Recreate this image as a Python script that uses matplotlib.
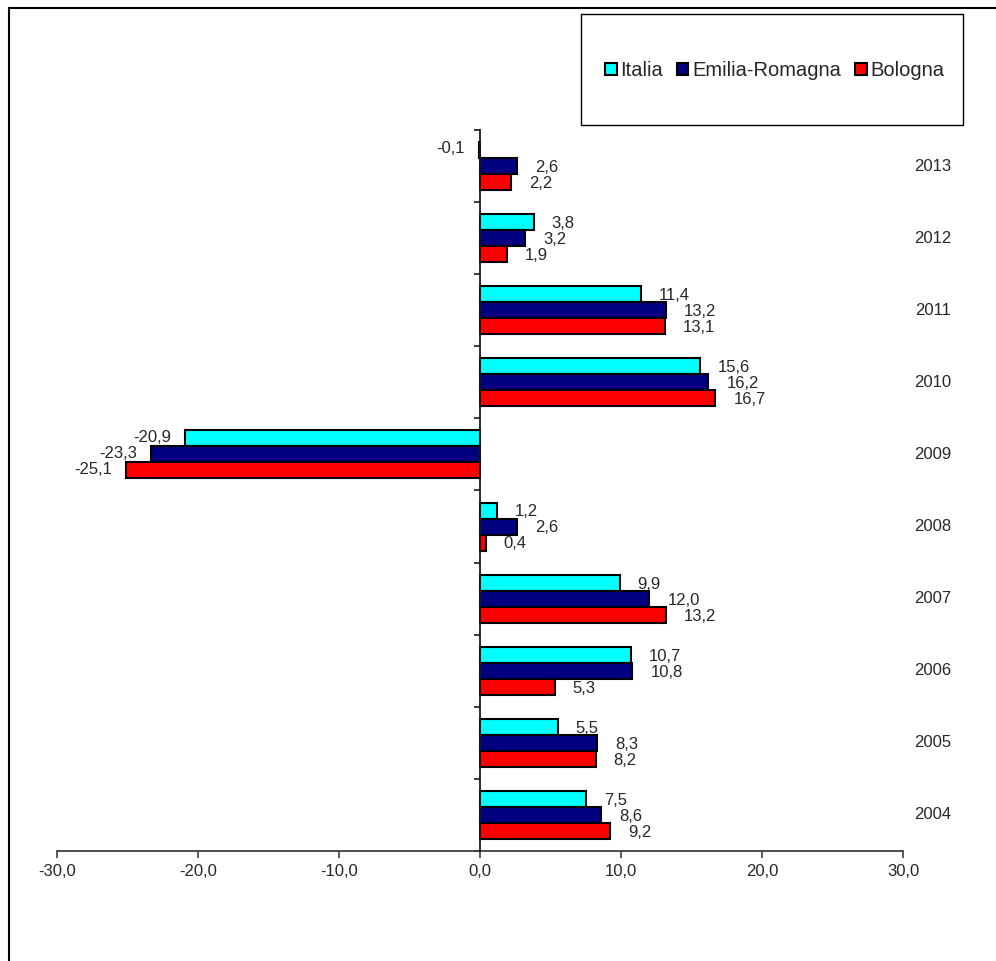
import matplotlib
matplotlib.use("Agg")
import matplotlib.pyplot as plt
from matplotlib.lines import Line2D
from matplotlib.patches import Rectangle
from matplotlib.ticker import FuncFormatter, FixedLocator
import numpy as np

plt.rcParams['font.family'] = ['Liberation Sans', 'DejaVu Sans']

years = ["2004", "2005", "2006", "2007", "2008", "2009", "2010", "2011", "2012", "2013"]
italia = [7.5, 5.5, 10.7, 9.9, 1.2, -20.9, 15.6, 11.4, 3.8, -0.1]
emilia_romagna = [8.6, 8.3, 10.8, 12.0, 2.6, -23.3, 16.2, 13.2, 3.2, 2.6]
bologna = [9.2, 8.2, 5.3, 13.2, 0.4, -25.1, 16.7, 13.1, 1.9, 2.2]
series_names = ["Italia", "Emilia-Romagna", "Bologna"]
colors = ["#00FFFF", "#000080", "#FF0000"]
xticks = [-30, -20, -10, 0, 10, 20, 30]

W, H = 996, 961
fig = plt.figure(figsize=(W / 100, H / 100), dpi=100)
ax = fig.add_axes([57 / W, 1 - 851 / H, 846 / W, 721 / H])

y = np.arange(len(years))
bh = 0.222
offsets = [bh, 0.0, -bh]
text_col = "#262626"

for vals, off, col, name in zip([italia, emilia_romagna, bologna], offsets, colors, series_names):
    bars = ax.barh(y + off, vals, height=bh, color=col, edgecolor="black",
                   linewidth=1.5, label=name, zorder=3)
    for yi, v in zip(y, vals):
        lbl = f"{v:.1f}".replace(".", ",")
        if v >= 0:
            ax.annotate(lbl, (v, yi + off), xytext=(13, -1), textcoords="offset points",
                        ha="left", va="center", fontsize=12, color=text_col)
        else:
            ax.annotate(lbl, (v, yi + off), xytext=(-10, 1), textcoords="offset points",
                        ha="right", va="center", fontsize=12, color=text_col)

ax.set_xlim(-30, 30)
ax.set_ylim(-0.5, len(years) - 0.5)

# axes styling: vertical axis at zero, horizontal axis at bottom
for s in ["top", "right"]:
    ax.spines[s].set_visible(False)
ax.spines["left"].set_position(("data", 0))
ax.spines["left"].set_color("#1a1a1a")
ax.spines["left"].set_linewidth(1.3)
ax.spines["left"].set_zorder(4)
ax.spines["bottom"].set_color("#404040")
ax.spines["bottom"].set_linewidth(1.3)

ax.xaxis.set_major_locator(FixedLocator(xticks))
ax.xaxis.set_major_formatter(FuncFormatter(lambda v, p: f"{v:.1f}".replace(".", ",")))
ax.tick_params(axis="x", direction="out", length=5, width=1.2, color="#404040",
               labelsize=12, labelcolor=text_col, pad=4)
ax.yaxis.set_major_locator(FixedLocator(np.arange(-0.5, len(years), 1.0)))
ax.tick_params(axis="y", direction="out", length=4, width=1.2, color="#1a1a1a",
               labelleft=False)

# year labels on the right side
for yi, yr in zip(y, years):
    ax.text(32.1, yi, yr, ha="center", va="center", fontsize=12, color=text_col,
            clip_on=False)

# legend inside a boxed area
rect = Rectangle((581 / W, 1 - 125 / H), (963 - 581) / W, (125 - 14) / H,
                 transform=fig.transFigure, fill=False, edgecolor="black",
                 linewidth=1.0)
fig.add_artist(rect)
leg = fig.legend(loc="center", bbox_to_anchor=(775 / W, 1 - 71 / H), ncol=3,
                 frameon=False, fontsize=14.5, handlelength=0.55, handleheight=0.55,
                 handletextpad=0.2, columnspacing=0.7)
for t in leg.get_texts():
    t.set_color(text_col)

# outer frame (top and left)
fig.add_artist(Line2D([9 / W, 1.0], [1 - 8 / H, 1 - 8 / H], transform=fig.transFigure,
                      color="black", linewidth=1.5))
fig.add_artist(Line2D([9 / W, 9 / W], [0.0, 1 - 8 / H], transform=fig.transFigure,
                      color="black", linewidth=1.5))

fig.savefig("out.png", dpi=100)
